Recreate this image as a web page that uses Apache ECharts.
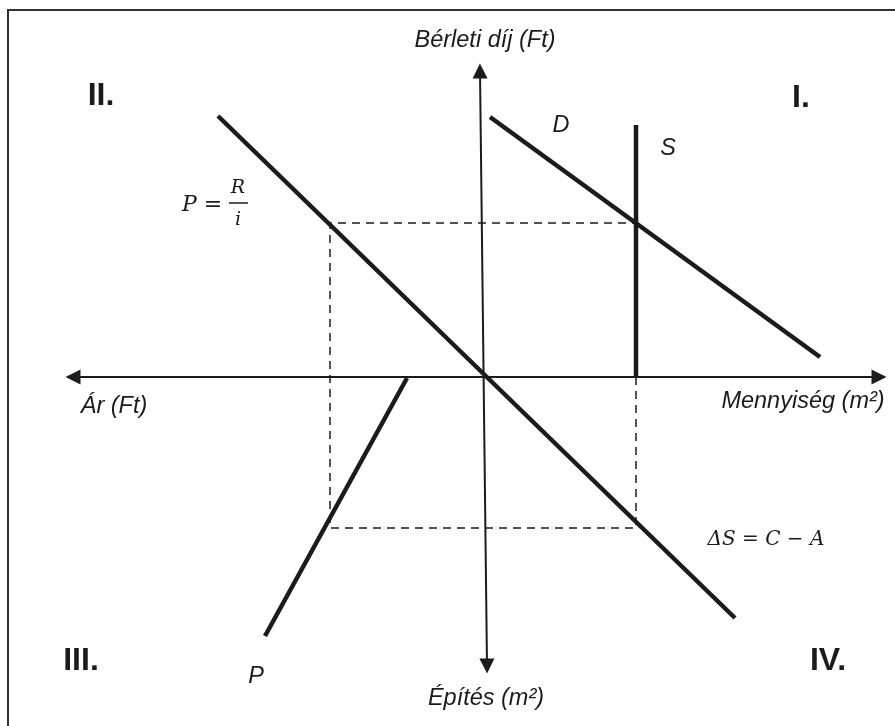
<!DOCTYPE html>
<html>
<head>
<meta charset="utf-8">
<script src="https://cdn.jsdelivr.net/npm/echarts@6/dist/echarts.min.js"></script>
<style>
html,body{margin:0;padding:0;background:#fff;}
#chart{width:895px;height:726px;}
</style>
</head>
<body>
<div id="chart"></div>
<script>
// Abstract model units (origin = intersection of the two axes, x right, y up)
const xRange = [-483, 412];
const yRange = [-349, 377];
// Axes (arrow ends)
const axisHorizontal = [[-410, 0], [396, 0]];
const axisVertical = [[-3, 306], [4, -289]];
// Quadrant II/IV: asset pricing line P = R/i (extended through IV: ΔS = C − A)
const capRateLine = [[-265, 261], [252, -241]];
// Quadrant I: demand D and fixed supply S
const demandLine = [[7, 260], [337, 20]];
const supplyLine = [[153, 252], [153, 0]];
// Quadrant III: construction cost P
const constructionLine = [[-76, -1], [-218, -259]];
// Equilibrium dashed rectangle
const equilibriumPath = [[153, 0], [153, -151], [-153, -151], [-153, 154], [153, 154]];

const chart = echarts.init(document.getElementById('chart'));
const ink = '#1b1b1b';
const sans = "'Liberation Sans', Arial, sans-serif";
const serif = "'DejaVu Serif', serif";

function seg(data, width, dash) {
  return {
    type: 'line', data: data, symbol: 'none', silent: true, animation: false,
    lineStyle: { color: ink, width: width, type: dash || 'solid', cap: 'butt' }
  };
}
function txt(x, y, text, size, opts) {
  return {
    type: 'text', x: x, y: y, silent: true,
    style: Object.assign({
      text: text, fontSize: size, fontFamily: sans, fill: ink,
      align: 'center', verticalAlign: 'middle'
    }, opts || {})
  };
}

chart.setOption({
  animation: false,
  grid: { left: 0, right: 0, top: 0, bottom: 0 },
  xAxis: { type: 'value', min: xRange[0], max: xRange[1], show: false },
  yAxis: { type: 'value', min: yRange[0], max: yRange[1], show: false },
  series: [
    {
      type: 'lines', coordinateSystem: 'cartesian2d', silent: true, animation: false,
      symbol: ['path://M0,-8L6,8L-6,8Z', 'path://M0,-8L6,8L-6,8Z'], symbolSize: 15,
      lineStyle: { color: ink, width: 2, opacity: 1 },
      data: [{ coords: axisHorizontal }, { coords: axisVertical }]
    },
    seg(equilibriumPath, 1.5, [8, 6]),
    seg(capRateLine, 4.5),
    seg(demandLine, 4.5),
    seg(supplyLine, 4.5),
    seg(constructionLine, 4.5)
  ],
  graphic: [
    { type: 'rect', shape: { x: 8, y: 10, width: 900, height: 730 }, silent: true,
      style: { fill: 'none', stroke: '#333', lineWidth: 2 } },
    txt(101, 96, 'II.', 32, { fontWeight: 'bold' }),
    txt(801, 98, 'I.', 32, { fontWeight: 'bold' }),
    txt(81, 661, 'III.', 32, { fontWeight: 'bold' }),
    txt(828, 661, 'IV.', 32, { fontWeight: 'bold' }),
    txt(485, 40, 'Bérleti díj (Ft)', 23.5, { fontStyle: 'italic' }),
    txt(486, 698, 'Építés (m²)', 23.5, { fontStyle: 'italic' }),
    txt(114, 406, 'Ár (Ft)', 23.5, { fontStyle: 'italic' }),
    txt(803, 401, 'Mennyiség (m²)', 23.5, { fontStyle: 'italic' }),
    txt(561, 125, 'D', 23.5, { fontStyle: 'italic' }),
    txt(668, 148, 'S', 23.5, { fontStyle: 'italic' }),
    txt(256, 676, 'P', 23.5, { fontStyle: 'italic' }),
    txt(202, 205, 'P =', 22, { fontFamily: serif, fontStyle: 'italic' }),
    txt(238, 188, 'R', 19, { fontFamily: serif, fontStyle: 'italic' }),
    { type: 'line', silent: true, shape: { x1: 229, y1: 203, x2: 248, y2: 203 },
      style: { stroke: ink, lineWidth: 1.5 } },
    txt(238, 220, 'i', 19, { fontFamily: serif, fontStyle: 'italic' }),
    txt(766, 540, 'ΔS = C − A', 20, { fontFamily: serif, fontStyle: 'italic' })
  ]
});
</script>
</body>
</html>
